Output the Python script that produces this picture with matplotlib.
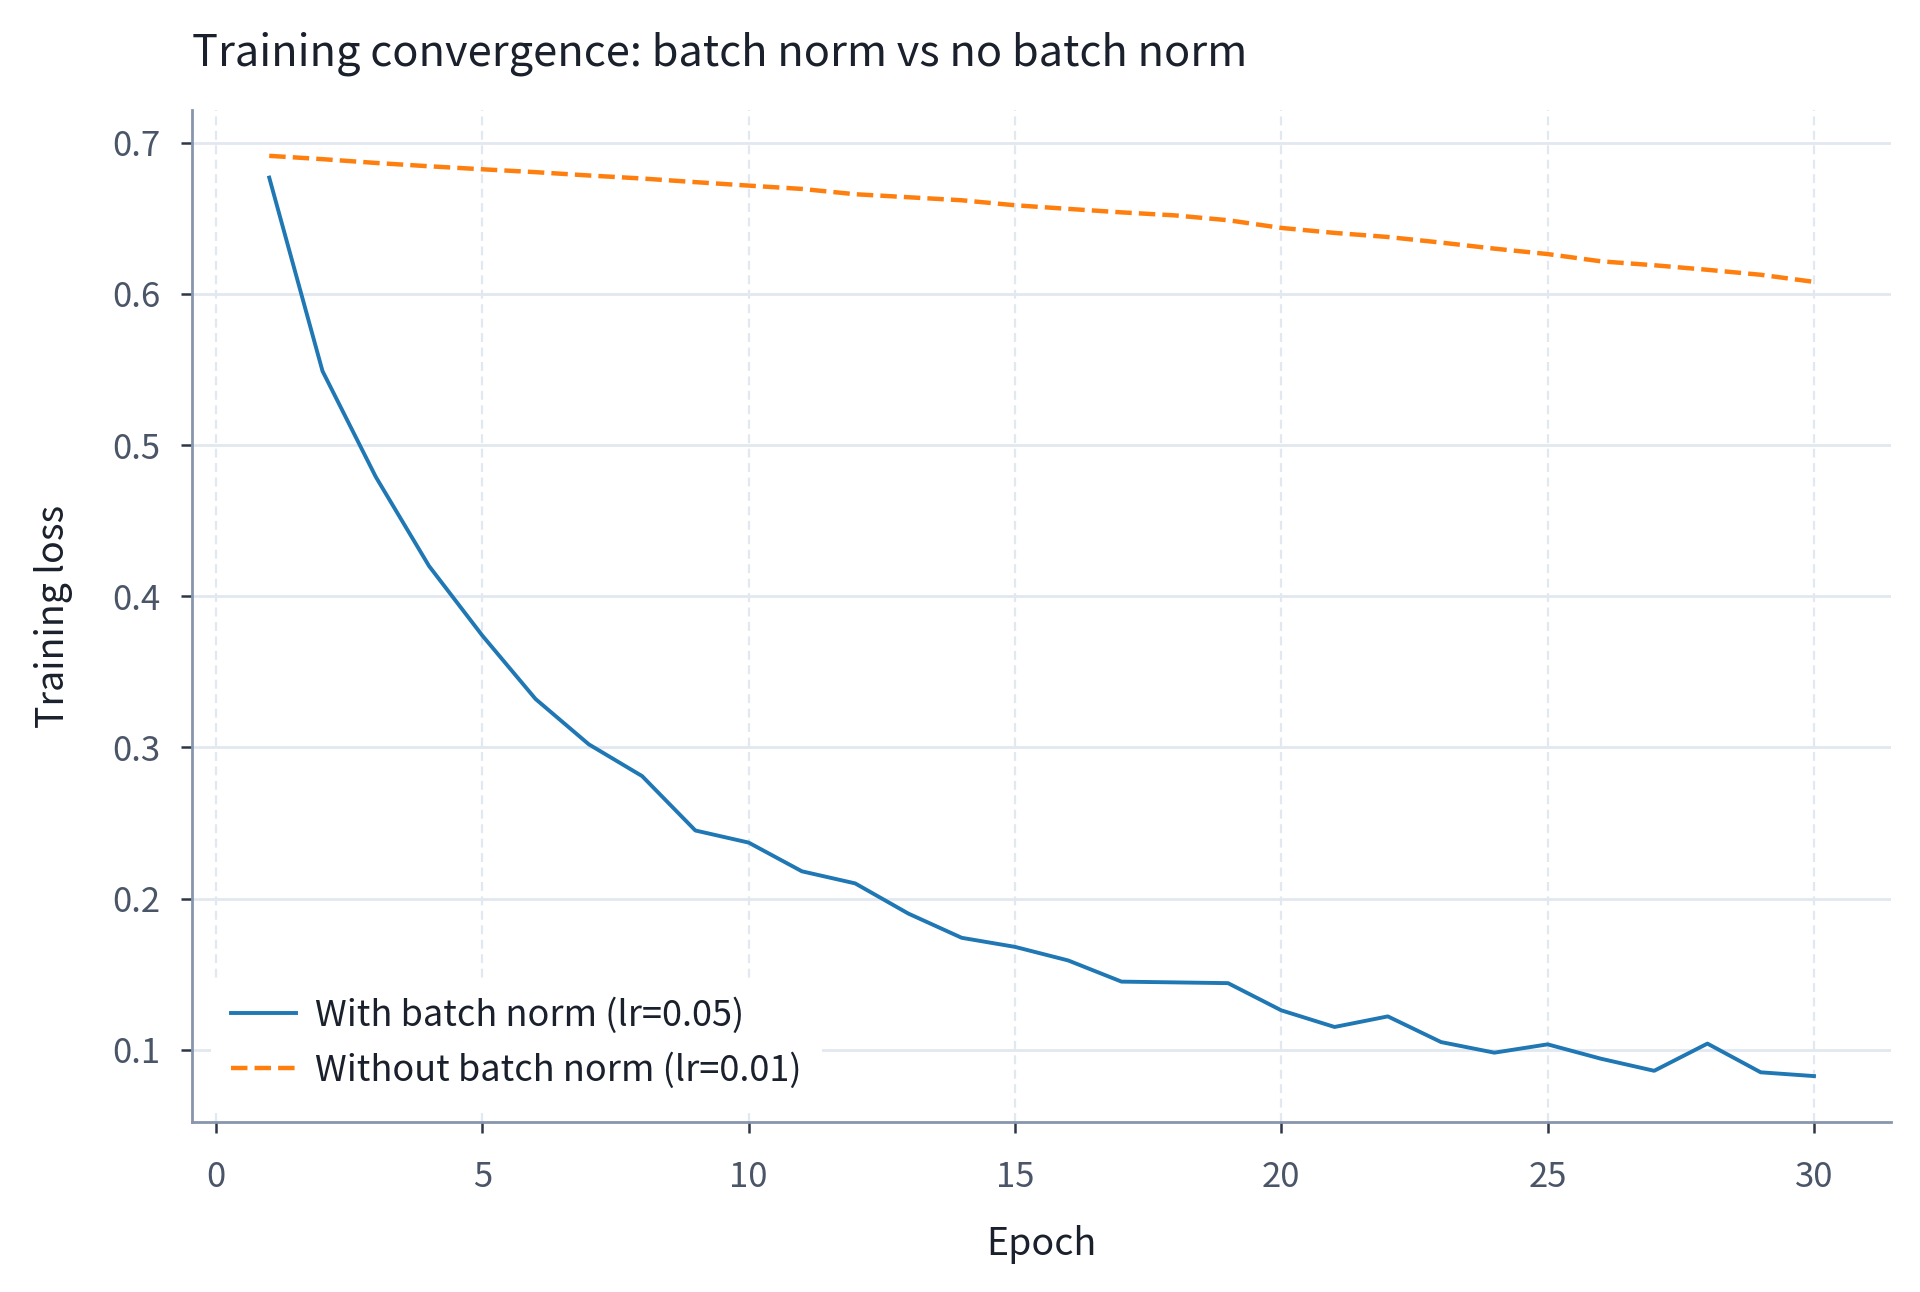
import matplotlib
matplotlib.use("Agg")
import matplotlib.pyplot as plt

plt.rcParams['font.family'] = ['Noto Sans CJK KR', 'DejaVu Sans']

epochs = list(range(1, 31))
with_bn = [0.677, 0.549, 0.479, 0.420, 0.374, 0.332, 0.302, 0.281, 0.245, 0.237,
           0.218, 0.210, 0.190, 0.174, 0.168, 0.159, 0.145, 0.1445, 0.144, 0.126,
           0.115, 0.122, 0.105, 0.098, 0.1035, 0.094, 0.086, 0.104, 0.085, 0.0825]
without_bn = [0.6914, 0.6892, 0.6867, 0.6845, 0.6825, 0.6806, 0.6784, 0.6764, 0.674, 0.6717,
              0.6695, 0.666, 0.664, 0.662, 0.6587, 0.6563, 0.654, 0.652, 0.6488, 0.6437,
              0.6404, 0.6377, 0.634, 0.630, 0.6264, 0.6216, 0.619, 0.616, 0.6127, 0.608]

title = "Training convergence: batch norm vs no batch norm"
xlabel = "Epoch"
ylabel = "Training loss"
label_bn = "With batch norm (lr=0.05)"
label_nobn = "Without batch norm (lr=0.01)"
xticks = [0, 5, 10, 15, 20, 25, 30]
yticks = [0.1, 0.2, 0.3, 0.4, 0.5, 0.6, 0.7]

fig = plt.figure(figsize=(9.6, 6.46), dpi=200)
ax = fig.add_axes([0.1, 0.1315, 0.885, 0.7835])

ax.plot(epochs, with_bn, color='#1f77b4', lw=1.4, label=label_bn, zorder=3)
ax.plot(epochs, without_bn, color='#ff7f0e', lw=1.6, ls='--', label=label_nobn, zorder=3)

ax.set_xticks(xticks)
ax.set_yticks(yticks)
ax.set_yticklabels([f"{v:.1f}" for v in yticks])

ax.grid(axis='y', color='#e2e8f0', lw=1.0, ls='-', zorder=0)
ax.grid(axis='x', color='#e2e8f0', lw=0.8, ls=(0, (4, 2.5)), zorder=0)
ax.set_axisbelow(True)

for s in ['top', 'right']:
    ax.spines[s].set_visible(False)
for s in ['left', 'bottom']:
    ax.spines[s].set_color('#8796ad')
    ax.spines[s].set_linewidth(1.0)

ax.tick_params(axis='both', colors='#4a5568', labelsize=12.5, length=4, width=0.9)
ax.tick_params(axis='both', color='#2d3748')
ax.tick_params(axis='x', pad=9.5)
ax.tick_params(axis='y', pad=7.5)

ax.set_title(title, loc='left', fontsize=15.6, color='#1a202c', pad=16)
ax.set_xlabel(xlabel, fontsize=13.5, color='#1a202c', labelpad=11)
ax.set_ylabel(ylabel, fontsize=13.5, color='#1a202c', labelpad=14)

leg = ax.legend(loc='lower left', bbox_to_anchor=(0.011, 0.0135), borderaxespad=0,
                fontsize=13, frameon=True, framealpha=1.0, edgecolor='none',
                facecolor='white', fancybox=False, borderpad=0.55,
                handlelength=1.8, handletextpad=0.55, labelspacing=0.5)
for t in leg.get_texts():
    t.set_color('#1a202c')

fig.savefig("out.png", dpi=200)
